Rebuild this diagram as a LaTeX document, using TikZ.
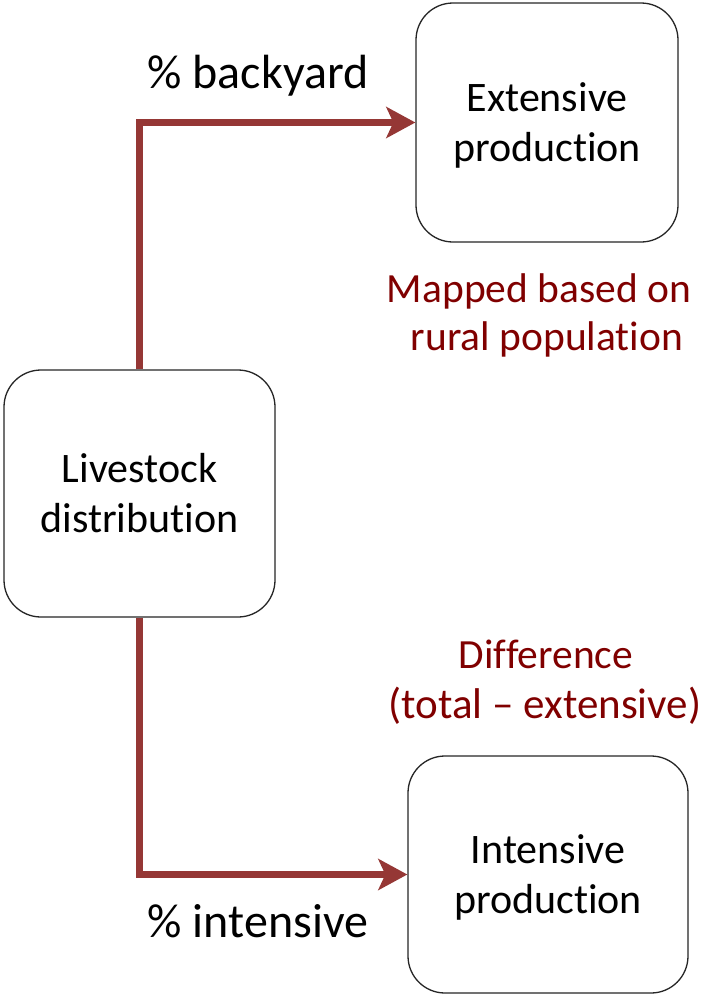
\documentclass[tikz,border=0pt]{standalone}
\usepackage{fontspec}
\setmainfont[Ligatures=NoCommon]{Carlito}
\usetikzlibrary{arrows.meta}
\definecolor{arrowred}{HTML}{953735}
\definecolor{notered}{HTML}{800000}
\newcommand\twolines[2]{\rule{0pt}{37pt}#1\\#2\rule[-10pt]{0pt}{10pt}}
\tikzset{
  box/.style={draw=black!85, line width=1.3pt, rounded corners=37pt, fill=white,
    align=center, inner sep=0pt, font=\fontsize{42}{50}\selectfont},
  flow/.style={draw=arrowred, line width=7pt,
    -{Stealth[length=29pt,width=31pt,inset=7pt]}},
  lbl/.style={anchor=base, inner sep=0pt, font=\fontsize{48}{50}\selectfont},
  note/.style={anchor=base, inner sep=0pt, text=notered, font=\fontsize{41.5}{50}\selectfont}
}
\begin{document}
\begin{tikzpicture}[x=1pt,y=-1pt]
\useasboundingbox (0,0) rectangle (705,996);
\node[box, minimum width=271pt, minimum height=247pt] (live) at (139.5,493.5) {\twolines{Livestock}{distribution}};
\node[box, minimum width=262pt, minimum height=239pt] (ext) at (547,122.5) {\twolines{Extensive}{production}};
\node[box, minimum width=280pt, minimum height=237pt] (int) at (548,874.5) {\twolines{Intensive}{production}};
\draw[flow] (live.north) |- (ext.west);
\draw[flow] (live.south) |- (int.west);
\node[lbl] (bk) at (258,88) {\% backyard};
\node[lbl] (in) at (258,937) {\% intensive};
\node[note] (map) at (539,302) {Mapped based on};
\node[note] (rur) at (547,350) {rural population};
\node[note] (dif) at (546,668) {Difference};
\node[note, font=\fontsize{43}{50}\selectfont] (tot) at (545,718) {(total – extensive)};
\end{tikzpicture}
\end{document}
